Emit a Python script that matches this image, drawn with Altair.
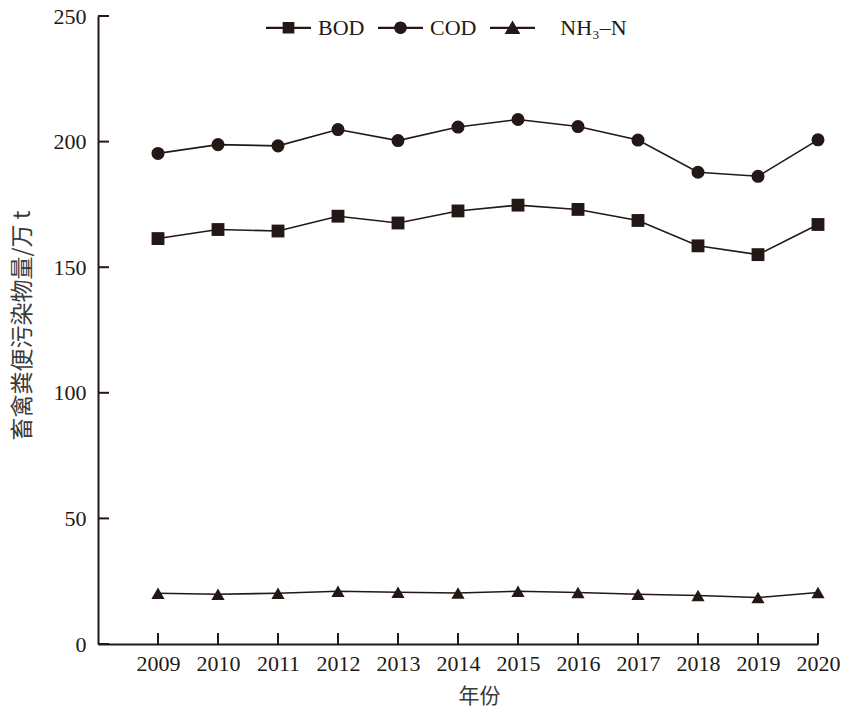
import altair as alt
import pandas as pd

years = [2009, 2010, 2011, 2012, 2013, 2014, 2015, 2016, 2017, 2018, 2019, 2020]
bod = [161.4, 165.0, 164.4, 170.3, 167.6, 172.4, 174.7, 173.0, 168.6, 158.5, 155.0, 167.0]
cod = [195.3, 198.8, 198.3, 204.8, 200.4, 205.8, 208.8, 206.0, 200.6, 187.8, 186.2, 200.7]
nh3n = [20.2, 19.8, 20.2, 21.0, 20.6, 20.3, 21.0, 20.5, 19.8, 19.3, 18.5, 20.5]
series_names = ["BOD", "COD", "NH3-N"]
y_ticks = [0, 50, 100, 150, 200, 250]

INK = "#231815"
PLOT_H = 628

rows = []
for name, vals in zip(series_names, [bod, cod, nh3n]):
    for yr, v in zip(years, vals):
        rows.append({"year": yr, "value": v, "series": name})
df = pd.DataFrame(rows)

x_scale = alt.Scale(domain=[2008, 2020], nice=False, zero=False)
y_scale = alt.Scale(domain=[0, 250], nice=False)

x_enc = alt.X("year:Q", scale=x_scale,
              axis=alt.Axis(values=years, format="d", title="年份", ticks=False, tickSize=0,
                            grid=False, labelPadding=9, labelOverlap=False, labelFlush=False,
                            titleX=381, titleY=52,
                            titleBaseline="middle", titleAlign="center"))
y_enc = alt.Y("value:Q", scale=y_scale,
              axis=alt.Axis(values=y_ticks, title="畜禽粪便污染物量/万 t", ticks=False, tickSize=0,
                            grid=False, labelPadding=12, labelOverlap=False, labelFlush=False,
                            titleX=-76, titleY=309,
                            titleAngle=-90, titleBaseline="middle", titleAlign="center",
                            titleFontSize=23))

lines = alt.Chart(df).mark_line(color=INK, strokeWidth=1.6).encode(
    x=x_enc, y=y_enc, detail="series:N"
)

points = alt.Chart(df).mark_point(filled=True, color=INK, opacity=1).encode(
    x="year:Q", y="value:Q",
    shape=alt.Shape("series:N", scale=alt.Scale(domain=series_names,
                                                range=["square", "circle", "triangle-up"]),
                    legend=None),
    size=alt.Size("series:N", scale=alt.Scale(domain=series_names, range=[165, 175, 230]),
                  legend=None),
)

legend_paths = [
    "M-1,-0.05H1V0.05H-1ZM-0.26,-0.26H0.26V0.26H-0.26Z",
    "M-1,-0.05H1V0.05H-1ZM-0.28,0A0.28,0.28,0,1,1,0.28,0A0.28,0.28,0,1,1,-0.28,0Z",
    "M-1,-0.05H1V0.05H-1ZM0,-0.32L0.35,0.28H-0.35Z",
]

legend_layer = alt.Chart(df).transform_filter(alt.datum.year < 0).mark_point(
    filled=True, color=INK, opacity=1
).encode(
    x="year:Q", y="value:Q",
    shape=alt.Shape("series:N", scale=alt.Scale(domain=series_names, range=legend_paths),
                    legend=alt.Legend(
                        title=None, orient="none", direction="horizontal",
                        legendX=167, legendY=-12,
                        symbolSize=2025, symbolFillColor=INK, symbolOpacity=1,
                        labelFont="Liberation Serif", labelFontSize=22, labelColor=INK,
                        labelOffset=6, columnPadding=10,
                        labelExpr="datum.label == 'NH3-N' ? '\u200b\u2002\u2006\u2006NH\u2083\u2013N' : datum.label",
                    )),
)

ticks_y = alt.Chart(pd.DataFrame({"v": y_ticks})).mark_rule(color=INK, strokeWidth=2).encode(
    y=alt.Y("v:Q", scale=y_scale), x=alt.value(0), x2=alt.value(11)
)
ticks_x = alt.Chart(pd.DataFrame({"yr": years})).mark_rule(color=INK, strokeWidth=2).encode(
    x=alt.X("yr:Q", scale=x_scale), y=alt.value(PLOT_H), y2=alt.value(PLOT_H - 11)
)

chart = alt.layer(lines, points, ticks_y, ticks_x, legend_layer).resolve_scale(
    shape="independent", size="independent"
).properties(
    width=720, height=PLOT_H,
    autosize=alt.AutoSizeParams(type="none"),
    padding={"left": 90, "top": 8, "right": 23, "bottom": 64},
    background="white",
).configure_view(stroke=None).configure_axis(
    domainColor=INK, domainWidth=2,
    labelFont="Liberation Serif", labelFontSize=22, labelColor=INK,
    titleFont="Noto Sans CJK SC", titleFontSize=21, titleFontWeight="normal", titleColor="#3a3a3a",
)

chart.save("out.html", embed_options={"renderer": "svg", "actions": False})
